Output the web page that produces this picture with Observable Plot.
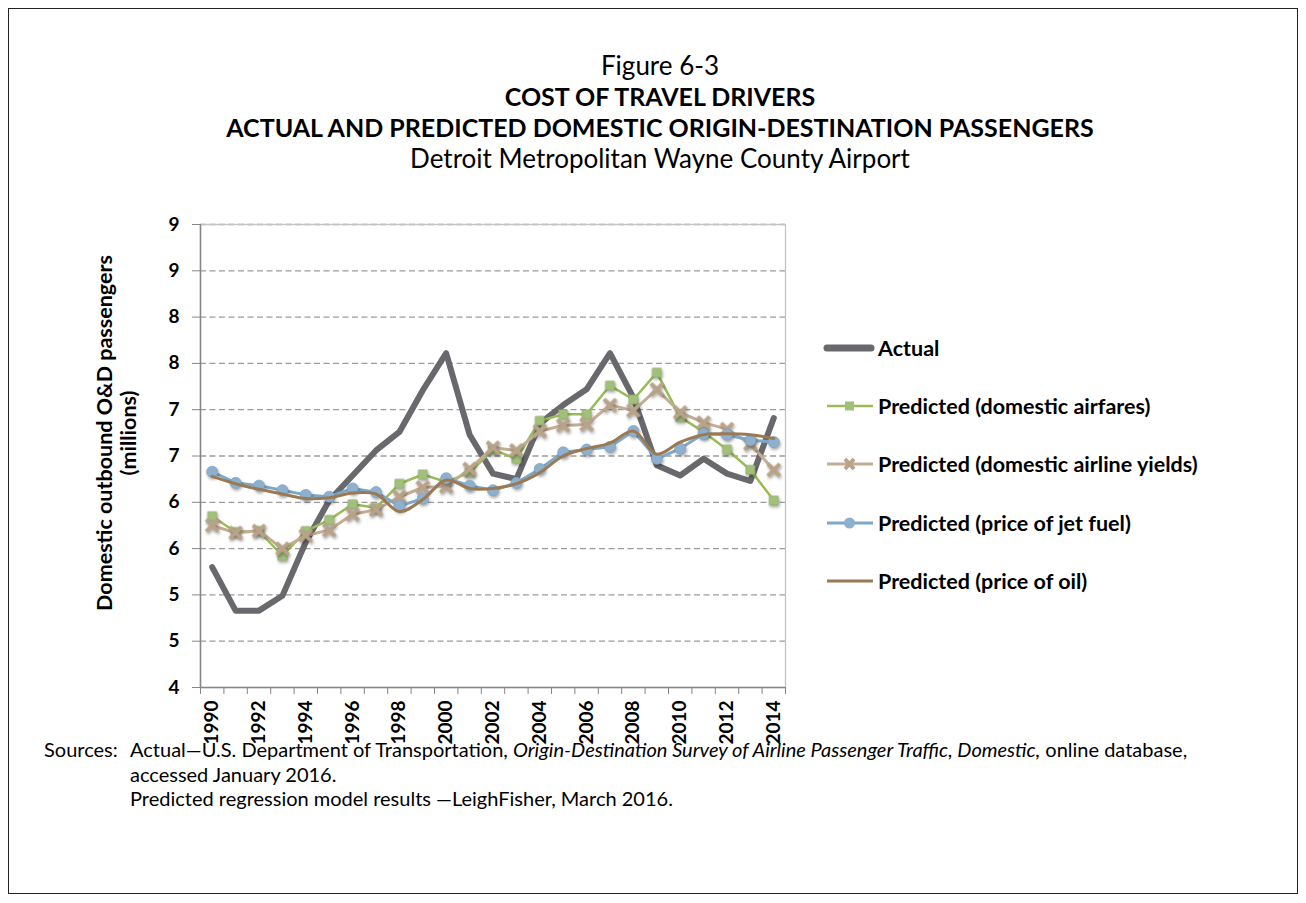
<!DOCTYPE html>
<html>
<head>
<meta charset="utf-8">
<script src="https://cdn.jsdelivr.net/npm/d3@7"></script>
<script src="https://cdn.jsdelivr.net/npm/@observablehq/plot@0.6"></script>
<style>
  html, body { margin: 0; padding: 0; background: #fff; }
  #wrap { position: relative; width: 1306px; height: 903px; overflow: hidden; font-family: Lato, "Open Sans", sans-serif; color: #000; }
  #border { position: absolute; left: 8px; top: 8px; width: 1288px; height: 884px; border: 1.5px solid #222; }
  #title { position: absolute; left: 0; top: 50px; width: 1320px; text-align: center; font-size: 26px; line-height: 31px; }
  #title .b { font-weight: bold; font-size: 25px; }
  #chart { position: absolute; left: 0; top: 0; }
  #ytitle { position: absolute; left: -134px; top: 409px; width: 500px; text-align: center; font-weight: bold; font-size: 21.5px; line-height: 24px; transform: rotate(-90deg); transform-origin: 250px 24px; }
  #legend { position: absolute; left: 823px; top: 333px; font-weight: bold; font-size: 21.5px; }
  #legend .row { display: flex; align-items: center; height: 30px; margin-bottom: 28.2px; }
  #legend svg { display: block; margin-right: 3px; }
  #sources { position: absolute; left: 44px; top: 737px; font-size: 20px; line-height: 24.5px; white-space: nowrap; }
  #sources .ind { padding-left: 86px; }
  #sources .lab { display: inline-block; width: 86px; }
  svg g[aria-label="dot"] { filter: drop-shadow(1.5px 2px 1.5px rgba(0,0,0,0.35)); }
</style>
</head>
<body>
<div id="wrap">
  <div id="border"></div>
  <div id="title">
    <div>Figure 6-3</div>
    <div class="b">COST OF TRAVEL DRIVERS</div>
    <div class="b">ACTUAL AND PREDICTED DOMESTIC ORIGIN-DESTINATION PASSENGERS</div>
    <div>Detroit Metropolitan Wayne County Airport</div>
  </div>
  <div id="chart"></div>
  <div id="ytitle">Domestic outbound O&amp;D passengers<br>(millions)</div>
  <div id="legend"></div>
  <div id="sources">
    <div><span class="lab">Sources:</span>Actual—U.S. Department of Transportation, <i>Origin-Destination Survey of Airline Passenger Traffic, Domestic,</i> online database,</div>
    <div class="ind">accessed January 2016.</div>
    <div class="ind">Predicted regression model results —LeighFisher, March 2016.</div>
  </div>
</div>
<script>
// ---- data ----
const years = [1990,1991,1992,1993,1994,1995,1996,1997,1998,1999,2000,2001,2002,2003,2004,2005,2006,2007,2008,2009,2010,2011,2012,2013,2014];
const actual   = [5.30,4.83,4.83,4.99,5.57,6.02,6.29,6.56,6.76,7.21,7.61,6.73,6.31,6.25,6.85,7.05,7.22,7.61,7.13,6.40,6.29,6.47,6.31,6.23,6.91];
const airfares = [5.85,5.68,5.69,5.42,5.69,5.81,5.98,5.94,6.20,6.30,6.22,6.32,6.57,6.47,6.88,6.95,6.95,7.26,7.11,7.40,6.92,6.76,6.57,6.35,6.02];
const yields   = [5.75,5.67,5.69,5.50,5.64,5.70,5.87,5.92,6.06,6.16,6.17,6.36,6.59,6.56,6.77,6.83,6.84,7.05,6.99,7.22,6.97,6.86,6.79,6.63,6.35];
const jetFuel  = [6.33,6.21,6.18,6.13,6.08,6.06,6.15,6.11,5.96,6.04,6.26,6.18,6.13,6.21,6.36,6.54,6.57,6.60,6.77,6.47,6.58,6.74,6.73,6.67,6.65];
const oil      = [6.28,6.20,6.14,6.09,6.04,6.05,6.10,6.09,5.90,6.03,6.24,6.15,6.15,6.20,6.32,6.50,6.58,6.64,6.77,6.52,6.65,6.73,6.74,6.73,6.69];
const seriesNames = ["Actual","Predicted (domestic airfares)","Predicted (domestic airline yields)","Predicted (price of jet fuel)","Predicted (price of oil)"];
const yTicks = [4,4.5,5,5.5,6,6.5,7,7.5,8,8.5,9];
const xLabelYears = [1990,1992,1994,1996,1998,2000,2002,2004,2006,2008,2010,2012,2014];

// ---- styles ----
const C = {
  actual: "#69696d",
  green: "#9bbb59", greenFill: "#a2c07a",
  tan: "#c3ad93", tanMark: "#b8a389",
  blue: "#7fa7c8", blueFill: "#8cb0ce",
  oil: "#9b7a53"
};

const rows = vals => years.map((year, i) => ({year, value: vals[i]}));
const bounds = [years[0] - 0.5, ...years.map(y => y + 0.5)];
const xDomain = [years[0] - 0.5, years[years.length - 1] + 0.5];

const chart = Plot.plot({
  width: 1306, height: 903,
  marginLeft: 200, marginRight: 521, marginTop: 224, marginBottom: 216,
  style: {fontFamily: "Lato, sans-serif", background: "transparent", overflow: "visible", color: "#000"},
  x: {type: "linear", domain: xDomain, label: null},
  y: {domain: [4, 9], label: null},
  marks: [
    Plot.ruleY(yTicks.slice(1), {stroke: "#9c9c9c", strokeDasharray: "6,3.5", strokeWidth: 1.3}),
    Plot.frame({stroke: "#c4c4c4", strokeWidth: 1.3}),
    Plot.ruleX([xDomain[0]], {stroke: "#868686", strokeWidth: 1.5}),
    Plot.ruleY([yTicks[0]], {stroke: "#868686", strokeWidth: 1.5}),
    Plot.axisY(yTicks, {tickSize: 8, tickPadding: 13, stroke: "#868686", fill: "#000", fontSize: 19, fontWeight: "bold", tickFormat: d => String(Math.round(d)), label: null}),
    Plot.axisX(bounds, {tickSize: 7, stroke: "#868686", tickFormat: () => "", label: null}),
    Plot.axisX(xLabelYears, {tickSize: 0, tickPadding: 13, tickRotate: -90, fill: "#000", fontSize: 19, fontWeight: "bold", tickFormat: d => String(d), label: null}),
    // Actual
    Plot.line(rows(actual), {x: "year", y: "value", stroke: C.actual, strokeWidth: 6, strokeLinejoin: "round", strokeLinecap: "round"}),
    // Airfares
    Plot.line(rows(airfares), {x: "year", y: "value", stroke: C.green, strokeWidth: 2.5}),
    Plot.dot(rows(airfares), {x: "year", y: "value", symbol: "square", r: 5, fill: C.greenFill, stroke: "#94b36c", strokeWidth: 0.8}),
    // Yields
    Plot.line(rows(yields), {x: "year", y: "value", stroke: C.tan, strokeWidth: 3}),
    Plot.dot(rows(yields), {x: "year", y: "value", symbol: "times", r: 5.5, stroke: C.tanMark, strokeWidth: 4}),
    // Jet fuel
    Plot.line(rows(jetFuel), {x: "year", y: "value", stroke: C.blue, strokeWidth: 3}),
    Plot.dot(rows(jetFuel), {x: "year", y: "value", symbol: "circle", r: 5.5, fill: C.blueFill, stroke: "#7da4c4", strokeWidth: 0.8}),
    // Oil
    Plot.line(rows(oil), {x: "year", y: "value", stroke: C.oil, strokeWidth: 3, curve: "catmull-rom"})
  ]
});
document.getElementById("chart").appendChild(chart);

// ---- legend ----
const legendSwatches = [
  `<svg width="52" height="20"><line x1="4" y1="10" x2="48" y2="10" stroke="${C.actual}" stroke-width="7" stroke-linecap="round"/></svg>`,
  `<svg width="52" height="20"><line x1="4" y1="10" x2="50" y2="10" stroke="${C.green}" stroke-width="2.5"/><rect x="22" y="5.5" width="9" height="9" fill="${C.greenFill}"/></svg>`,
  `<svg width="52" height="20"><line x1="4" y1="10" x2="50" y2="10" stroke="${C.tan}" stroke-width="3"/><path d="M22,5L31,15M31,5L22,15" stroke="${C.tanMark}" stroke-width="4"/></svg>`,
  `<svg width="52" height="20"><line x1="4" y1="10" x2="50" y2="10" stroke="${C.blue}" stroke-width="3"/><circle cx="26.5" cy="10" r="5.5" fill="${C.blueFill}"/></svg>`,
  `<svg width="52" height="20"><line x1="4" y1="10" x2="50" y2="10" stroke="${C.oil}" stroke-width="3"/></svg>`
];
const legend = document.getElementById("legend");
seriesNames.forEach((name, i) => {
  const row = document.createElement("div");
  row.className = "row";
  row.innerHTML = legendSwatches[i] + `<span>${name}</span>`;
  legend.appendChild(row);
});
</script>
</body>
</html>
